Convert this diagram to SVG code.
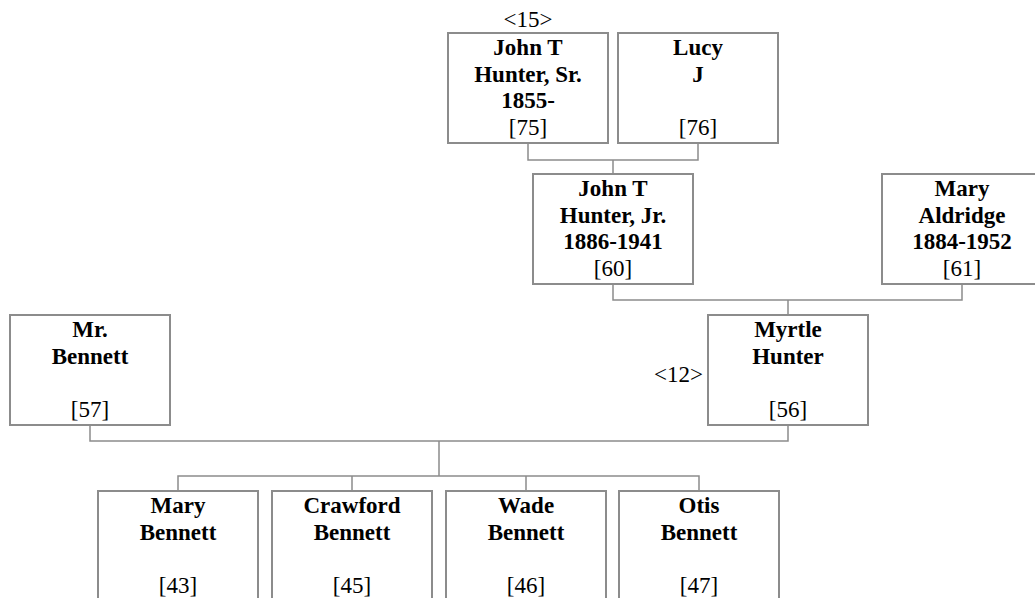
<svg xmlns="http://www.w3.org/2000/svg" width="1035" height="598" viewBox="0 0 1035 598">
<style>
rect.box{fill:#fff;stroke:#8c8c8c;stroke-width:2}
text{font-family:'Liberation Serif','Times New Roman','DejaVu Serif',serif;font-size:23px;fill:#000;text-anchor:middle}
.b{font-weight:bold}
.lines path{fill:none;stroke:#8c8c8c;stroke-width:1.5}
</style>
<rect width="1035" height="598" fill="#fff"/>
<g class="lines" id="connectors">
<path d="M528,143V160H698V143M613,160V174"/>
<path d="M613,284V300H962V284M788,300V315"/>
<path d="M90,425V441H788V425M439,441V476"/>
<path d="M178,491V476H699V491M352,476V491M526,476V491"/>
</g>
<g id="n75">
<text x="528" y="27">&lt;15&gt;</text>
<rect class="box" x="448" y="33" width="160" height="110"/>
<text class="b" x="528" y="55">John T</text>
<text class="b" x="528" y="81.7">Hunter, Sr.</text>
<text class="b" x="528" y="108.3">1855-</text>
<text x="528" y="135">[75]</text>
</g>
<g id="n76">
<rect class="box" x="618" y="33" width="160" height="110"/>
<text class="b" x="698" y="55">Lucy</text>
<text class="b" x="698" y="81.7">J</text>
<text x="698" y="135">[76]</text>
</g>
<g id="n60">
<rect class="box" x="533" y="174" width="160" height="110"/>
<text class="b" x="613" y="196">John T</text>
<text class="b" x="613" y="222.7">Hunter, Jr.</text>
<text class="b" x="613" y="249.3">1886-1941</text>
<text x="613" y="276">[60]</text>
</g>
<g id="n61">
<rect class="box" x="882" y="174" width="160" height="110"/>
<text class="b" x="962" y="196">Mary</text>
<text class="b" x="962" y="222.7">Aldridge</text>
<text class="b" x="962" y="249.3">1884-1952</text>
<text x="962" y="276">[61]</text>
</g>
<g id="n57">
<rect class="box" x="10" y="315" width="160" height="110"/>
<text class="b" x="90" y="337">Mr.</text>
<text class="b" x="90" y="363.7">Bennett</text>
<text x="90" y="417">[57]</text>
</g>
<g id="n56">
<text x="703" y="382" style="text-anchor:end">&lt;12&gt;</text>
<rect class="box" x="708" y="315" width="160" height="110"/>
<text class="b" x="788" y="337">Myrtle</text>
<text class="b" x="788" y="363.7">Hunter</text>
<text x="788" y="417">[56]</text>
</g>
<g id="n43">
<rect class="box" x="98" y="491" width="160" height="120"/>
<text class="b" x="178" y="513">Mary</text>
<text class="b" x="178" y="539.7">Bennett</text>
<text x="178" y="593">[43]</text>
</g>
<g id="n45">
<rect class="box" x="272" y="491" width="160" height="120"/>
<text class="b" x="352" y="513">Crawford</text>
<text class="b" x="352" y="539.7">Bennett</text>
<text x="352" y="593">[45]</text>
</g>
<g id="n46">
<rect class="box" x="446" y="491" width="160" height="120"/>
<text class="b" x="526" y="513">Wade</text>
<text class="b" x="526" y="539.7">Bennett</text>
<text x="526" y="593">[46]</text>
</g>
<g id="n47">
<rect class="box" x="619" y="491" width="160" height="120"/>
<text class="b" x="699" y="513">Otis</text>
<text class="b" x="699" y="539.7">Bennett</text>
<text x="699" y="593">[47]</text>
</g>
</svg>
